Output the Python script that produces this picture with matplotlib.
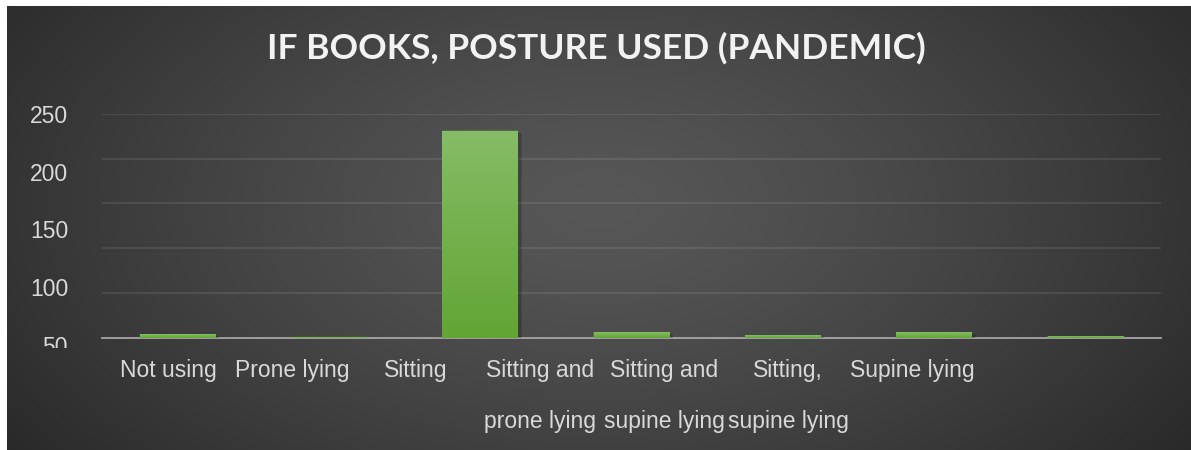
import numpy as np
import matplotlib
matplotlib.use("Agg")
import matplotlib.pyplot as plt
from matplotlib import patheffects as pe
from matplotlib.transforms import Bbox, TransformedBbox, blended_transform_factory
from matplotlib.colors import LinearSegmentedColormap

# ---- data ----
categories = ["Not using", "Prone lying", "Sitting", "Sitting and\nprone lying",
              "Sitting and\nsupine lying", "Sitting,\nsupine lying", "Supine lying"]
counts = [4, 1, 231, 6, 3, 6, 2]
y_tick_values = [250, 200, 150, 100, 50]
title = "IF BOOKS, POSTURE USED (PANDEMIC)"

W, H = 1191, 450
fig = plt.figure(figsize=(W / 100, H / 100), dpi=100)
fig.patch.set_facecolor("white")

# ---- dark radial-gradient chart background ----
bg = fig.add_axes([7 / W, 0, (W - 7) / W, (H - 6) / H])
bg.set_axis_off()
nx, ny = 600, 240
xx, yy = np.meshgrid(np.linspace(0, 1, nx), np.linspace(0, 1, ny))
r = np.sqrt(((xx - 0.5) / 0.62) ** 2 + ((yy - 0.55) / 0.95) ** 2)
r = np.clip(r, 0, 1)
c_center = np.array([0x57, 0x57, 0x57]) / 255
c_edge = np.array([0x29, 0x29, 0x29]) / 255
img = c_center[None, None, :] + (c_edge - c_center)[None, None, :] * (r ** 1.3)[..., None]
bg.imshow(img, extent=[0, 1, 0, 1], aspect="auto", origin="lower")
bg.set_xlim(0, 1)
bg.set_ylim(0, 1)

# ---- plot area ----
left, right = 102, 1161
top, bottom = 113.7, 337.8
ax = fig.add_axes([left / W, (H - bottom) / H, (right - left) / W, (bottom - top) / H])
ax.set_facecolor("none")
x = np.arange(len(categories))
ax.set_xlim(-0.5, len(categories) - 0.5)
ax.set_ylim(0, 250)
for s in ax.spines.values():
    s.set_visible(False)
ax.set_xticks([])
ax.set_yticks([])

for g in [50, 100, 150, 200, 250]:
    ax.axhline(g, color="white", alpha=0.11, lw=1.2, zorder=1)
ax.axhline(0, color="#a6a6a6", lw=1.3, zorder=2, clip_on=False)

green = LinearSegmentedColormap.from_list("g", ["#62a534", "#86bc66"])
grad = np.linspace(0, 1, 256)[:, None]
bars = ax.bar(x, counts, width=0.5, color="#6cb040", zorder=3, snap=False,
              path_effects=[pe.SimplePatchShadow(offset=(2.5, -1.5), shadow_rgbFace="black", alpha=0.22),
                            pe.Normal()])
for b in bars:
    x0, w, h = b.get_x(), b.get_width(), b.get_height()
    im = ax.imshow(grad, extent=[x0, x0 + w, 0, h], origin="lower", aspect="auto",
                   cmap=green, zorder=4)
    im.set_clip_path(b)

# ---- value-axis labels ----
def label_pos(v):
    return 1.2865 * v - 74.9

ytrans = blended_transform_factory(fig.transFigure, ax.transData)
clip = TransformedBbox(Bbox([[0, (H - 348) / H], [1, 1]]), fig.transFigure)
for v in y_tick_values:
    t = fig.text(68 / W, label_pos(v), str(v), transform=ytrans, ha="right", va="center",
                 fontsize=16.5, color="#d9d9d9", family="Liberation Sans")
    t.set_clip_box(clip)
    t.set_clip_on(True)

# ---- category labels ----
for i, lbl in enumerate(categories):
    xp = (168 - left) / ((right - left) / len(categories)) - 0.5 + 124 / ((right - left) / len(categories)) * i
    ax.annotate(lbl, xy=(xp, 0), xycoords=("data", "axes fraction"), xytext=(0, -15),
                textcoords="offset points", ha="center", va="top", fontsize=16.5,
                color="#d9d9d9", family="Liberation Sans", linespacing=2.55,
                annotation_clip=False)

fig.text(596 / W, 1 - 48 / H, title, ha="center", va="center", fontsize=25.5,
         fontweight="bold", color="#f2f2f2", family="Lato")

fig.savefig("out.png", dpi=100, facecolor=fig.get_facecolor())
